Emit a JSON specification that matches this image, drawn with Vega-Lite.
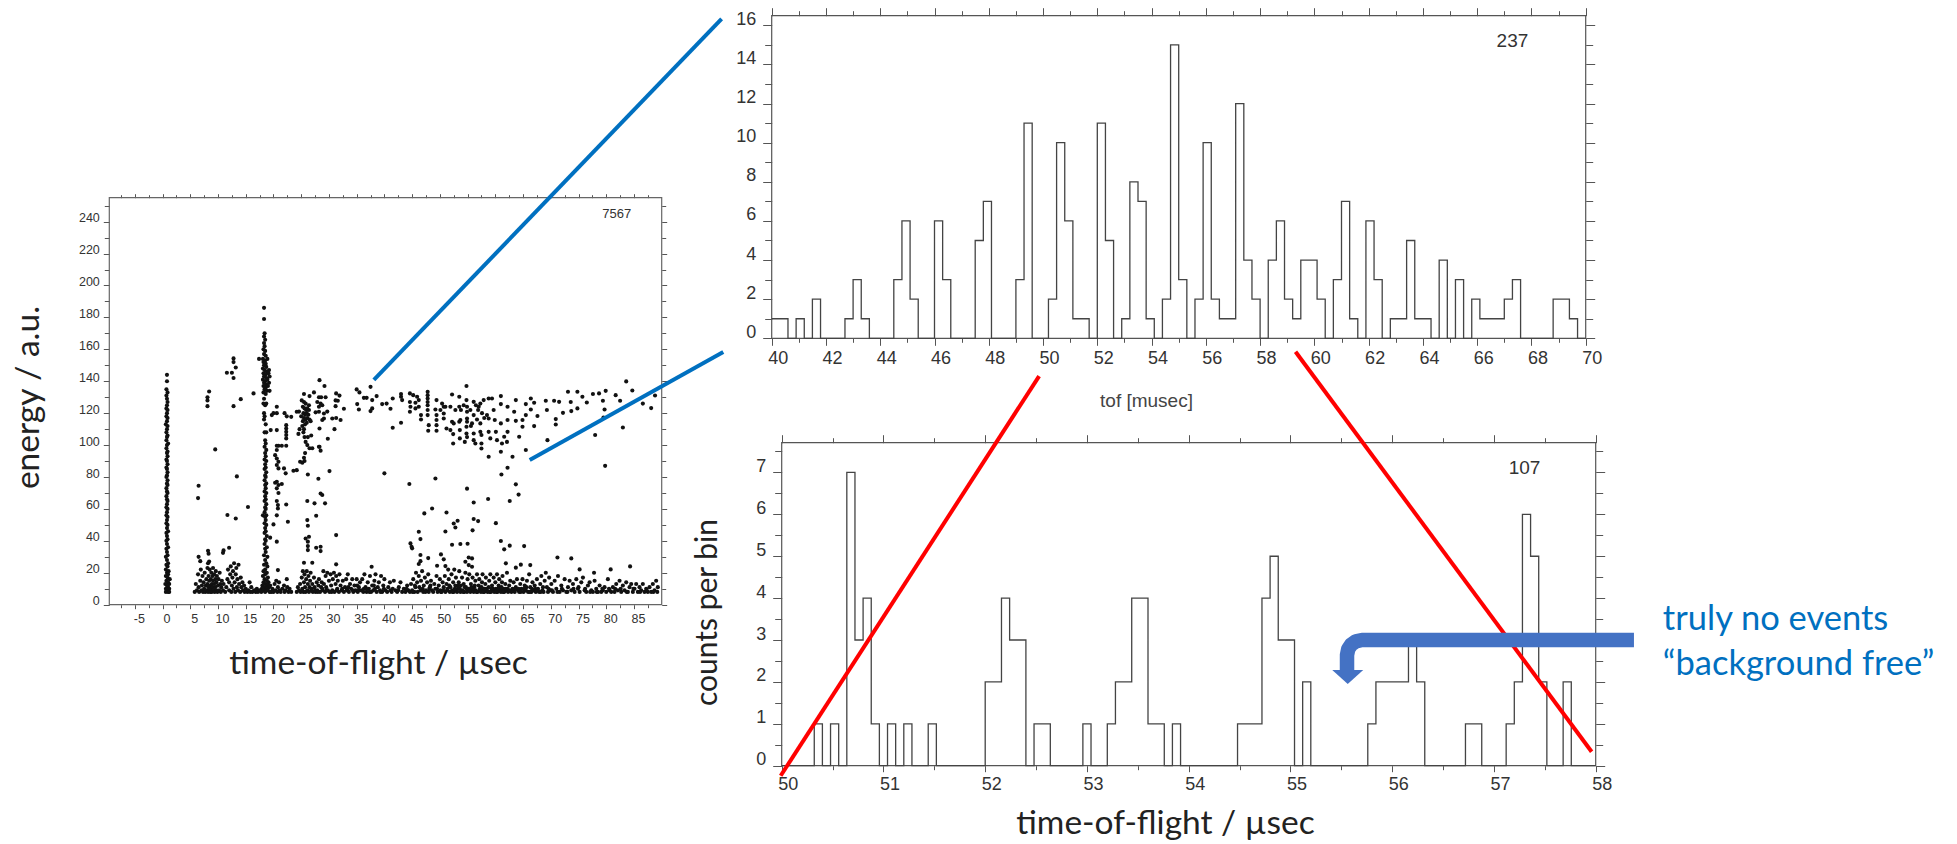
{"$schema":"https://vega.github.io/schema/vega-lite/v6.json","width":1957,"height":844,"padding":0,"autosize":"none","background":"white","view":{"stroke":null},
"config":{"axis":{"grid":false,"domain":false,"labelFont":"Liberation Sans","labelColor":"#333","tickColor":"#555","labelOverlap":false,"labelFlush":false,"labelBound":false,"titleFont":"Lato","titleColor":"#222","titleFontWeight":"normal","titleBaseline":"middle","titleAlign":"center"}},
"resolve":{"scale":{"x":"independent","y":"independent"},"axis":{"x":"independent","y":"independent"}},
"layer":[
{"data":{"values":[{"x0":-9.6,"x1":90,"y0":0,"y1":255}]},"mark":{"type":"rect","fill":"transparent","stroke":"#666","strokeWidth":1.2},
"encoding":{"x":{"field":"x0","type":"quantitative","scale":{"domain":[-9.6,90],"range":[109.3,661.7]},"axis":{"orient":"top","offset":-197.7,"title":null,"labels":false,"values":[-7.5,-5,-2.5,0,2.5,5,7.5,10,12.5,15,17.5,20,22.5,25,27.5,30,32.5,35,37.5,40,42.5,45,47.5,50,52.5,55,57.5,60,62.5,65,67.5,70,72.5,75,77.5,80,82.5,85,87.5],"tickSize":{"expr":"datum.value%5==0?4:3"}}},"x2":{"field":"x1"},
"y":{"field":"y0","type":"quantitative","scale":{"domain":[0,255],"range":[604.7,197.7]},"axis":{"orient":"right","offset":-1295.3,"title":null,"labels":false,"values":[0,10,20,30,40,50,60,70,80,90,100,110,120,130,140,150,160,170,180,190,200,210,220,230,240,250],"tickSize":{"expr":"datum.value%20==0?5:4"}}},"y2":{"field":"y1"}}},
{"data":{"name":"events","values":[
{"t":0.8,"e":144},{"t":0.8,"e":140},{"t":0.7,"e":135},{"t":0.9,"e":133},{"t":0.7,"e":131},{"t":0.8,"e":129},{"t":0.9,"e":127},{"t":0.8,"e":125},{"t":0.7,"e":123},{"t":0.9,"e":122},{"t":0.8,"e":120},{"t":0.7,"e":118},{"t":0.9,"e":117},{"t":0.8,"e":115},{"t":0.6,"e":113},{"t":0.9,"e":112},{"t":0.8,"e":110},{"t":0.7,"e":108},{"t":0.9,"e":106},{"t":0.8,"e":105},{"t":0.7,"e":103},{"t":1,"e":101},{"t":0.8,"e":100},{"t":0.7,"e":98},{"t":0.9,"e":96},{"t":0.8,"e":95},{"t":0.9,"e":93},{"t":0.7,"e":91},{"t":0.8,"e":90},{"t":0.9,"e":88},{"t":0.7,"e":86},{"t":0.8,"e":85},{"t":0.9,"e":83},{"t":0.8,"e":81},{"t":0.7,"e":80},{"t":0.9,"e":78},{"t":0.8,"e":76},{"t":0.9,"e":75},{"t":0.7,"e":73},{"t":0.8,"e":71},{"t":0.9,"e":70},{"t":0.7,"e":68},{"t":0.8,"e":66},{"t":0.9,"e":65},{"t":0.8,"e":63},{"t":0.7,"e":61},{"t":0.9,"e":60},{"t":0.8,"e":58},{"t":0.7,"e":56},{"t":0.9,"e":55},{"t":0.8,"e":53},{"t":0.7,"e":51},{"t":0.9,"e":50},{"t":0.8,"e":48},{"t":1,"e":46},{"t":0.7,"e":45},{"t":0.8,"e":43},{"t":0.9,"e":41},{"t":0.7,"e":40},{"t":0.8,"e":38},{"t":1,"e":36},{"t":0.7,"e":35},{"t":0.8,"e":33},{"t":0.9,"e":31},{"t":0.6,"e":30},{"t":0.8,"e":28},{"t":1,"e":26},{"t":0.7,"e":25},{"t":0.9,"e":24},{"t":0.6,"e":22},{"t":1.1,"e":21},{"t":0.8,"e":20},{"t":1,"e":19},{"t":0.6,"e":18},{"t":0.9,"e":17},{"t":1.3,"e":16},{"t":0.7,"e":15},{"t":1,"e":14},{"t":0.5,"e":13},{"t":1.2,"e":13},{"t":0.8,"e":12},{"t":1,"e":11},{"t":0.6,"e":10},{"t":1.2,"e":10},{"t":0.8,"e":9},{"t":1,"e":8},{"t":0.6,"e":8},{"t":1.2,"e":8},
{"t":18.3,"e":186},{"t":18.3,"e":179},{"t":18.4,"e":170},{"t":18.3,"e":168},{"t":18.5,"e":166},{"t":18.3,"e":164},{"t":18.4,"e":162},{"t":18.2,"e":160},{"t":18.5,"e":159},{"t":18.3,"e":157},{"t":18.6,"e":156},{"t":17.4,"e":154},{"t":18.1,"e":154},{"t":18.5,"e":153},{"t":18.9,"e":154},{"t":18.2,"e":152},{"t":18.6,"e":151},{"t":18.3,"e":150},{"t":18.7,"e":149},{"t":18.1,"e":148},{"t":18.4,"e":147},{"t":18.8,"e":146},{"t":19.2,"e":147},{"t":18.2,"e":145},{"t":18.6,"e":144},{"t":19.1,"e":145},{"t":18.3,"e":143},{"t":18.7,"e":142},{"t":19.3,"e":143},{"t":18.1,"e":141},{"t":18.5,"e":140},{"t":18.9,"e":141},{"t":18.3,"e":139},{"t":18.7,"e":138},{"t":19.2,"e":139},{"t":18.2,"e":137},{"t":18.6,"e":136},{"t":19,"e":137},{"t":18.4,"e":135},{"t":18.8,"e":134},{"t":19.3,"e":134},{"t":18.2,"e":133},{"t":18.6,"e":132},{"t":18.3,"e":129},{"t":18.2,"e":126},{"t":18.5,"e":125},{"t":18.7,"e":126},{"t":18.3,"e":120},{"t":18.4,"e":118},{"t":18.3,"e":116},{"t":18.6,"e":113},{"t":18.4,"e":108},{"t":18.7,"e":108},{"t":18.5,"e":103},{"t":18.6,"e":101},{"t":18.4,"e":99},{"t":18.7,"e":97},{"t":18.5,"e":95},{"t":18.6,"e":93},{"t":18.4,"e":91},{"t":18.7,"e":90},{"t":18.5,"e":88},{"t":18.6,"e":86},{"t":18.4,"e":85},{"t":18.7,"e":83},{"t":18.5,"e":81},{"t":18.6,"e":80},{"t":18.4,"e":78},{"t":18.7,"e":76},{"t":18.5,"e":75},{"t":18.6,"e":73},{"t":18.4,"e":71},{"t":18.7,"e":70},{"t":18.5,"e":68},{"t":18.6,"e":66},{"t":18.4,"e":65},{"t":18.7,"e":63},{"t":18.5,"e":61},{"t":18.6,"e":60},{"t":18.4,"e":58},{"t":18.1,"e":56},{"t":18.7,"e":56},{"t":18.5,"e":55},{"t":18.6,"e":53},{"t":18.4,"e":51},{"t":18.7,"e":50},{"t":18.5,"e":48},{"t":18.6,"e":46},{"t":18.4,"e":45},{"t":18.8,"e":43},{"t":18.5,"e":41},{"t":18.6,"e":40},{"t":18.4,"e":38},{"t":18.8,"e":36},{"t":18.5,"e":35},{"t":18.6,"e":33},{"t":18.3,"e":31},{"t":18.9,"e":30},{"t":18.5,"e":28},{"t":18.7,"e":26},{"t":18.3,"e":25},{"t":18.9,"e":24},{"t":18.5,"e":22},{"t":18.2,"e":21},{"t":18.8,"e":20},{"t":18.5,"e":19},{"t":18.1,"e":18},{"t":19,"e":17},{"t":18.4,"e":16},{"t":18.8,"e":15},{"t":18.2,"e":14},{"t":19.1,"e":14},{"t":18.6,"e":13},{"t":18,"e":12},{"t":18.9,"e":12},{"t":18.4,"e":11},{"t":19.2,"e":11},{"t":17.9,"e":10},{"t":18.7,"e":10},{"t":18.2,"e":9},{"t":19,"e":9},{"t":17.8,"e":8},{"t":18.5,"e":8},{"t":19.3,"e":8},
{"t":6.5,"e":74.5},{"t":6.4,"e":66.8},{"t":8.4,"e":133.6},{"t":8.1,"e":130},{"t":8.1,"e":128},{"t":8.1,"e":124.4},{"t":9.5,"e":97.3},{"t":11.6,"e":145.3},{"t":12.5,"e":145.3},{"t":12.8,"e":154.3},{"t":12.8,"e":152},{"t":13.2,"e":148.6},{"t":12.8,"e":142},{"t":12.8,"e":124.4},{"t":14.1,"e":128.8},{"t":16.4,"e":132.4},{"t":13.4,"e":80.4},{"t":15.4,"e":61.2},{"t":11.7,"e":56.2},{"t":13.2,"e":54},
{"t":11,"e":34},{"t":10.9,"e":32.5},{"t":12,"e":35.7},{"t":8.2,"e":33.8},{"t":8.3,"e":32},{"t":6.5,"e":30},{"t":6.8,"e":27.3},{"t":8.4,"e":27},{"t":8.2,"e":26},
{"t":20.6,"e":124},{"t":20,"e":120},{"t":20.6,"e":120},{"t":19.7,"e":118.8},{"t":22,"e":120},{"t":22.4,"e":118},{"t":23.2,"e":117.7},{"t":24.2,"e":120.9},{"t":22.3,"e":112.5},{"t":22.3,"e":110.4},{"t":22.3,"e":108.3},{"t":22.3,"e":106.3},{"t":22.3,"e":104.2},{"t":19.5,"e":109.4},{"t":20.6,"e":109.4},{"t":20.6,"e":99.6},{"t":20.9,"e":99.6},{"t":21.5,"e":99.6},{"t":22.3,"e":99.6},{"t":20.6,"e":96.9},{"t":20.3,"e":93.7},{"t":20.6,"e":91.6},{"t":20.9,"e":89.6},{"t":20.6,"e":87.5},{"t":20.9,"e":85.4},{"t":21.9,"e":85.4},{"t":22.2,"e":82.3},{"t":23.6,"e":83.9},{"t":24.2,"e":84.3},{"t":20.3,"e":76.4},{"t":20.6,"e":77},{"t":20.9,"e":75},{"t":21.5,"e":75.6},{"t":20.6,"e":72.9},{"t":20.9,"e":70},{"t":20.6,"e":65},{"t":20.8,"e":62.4},{"t":20.8,"e":60.3},{"t":22.3,"e":62.8},{"t":20.6,"e":56},{"t":22.6,"e":52},{"t":20,"e":50.3},{"t":19.4,"e":42},{"t":20.6,"e":39.5},{"t":20.8,"e":21.7},
{"t":25.5,"e":132},{"t":25.1,"e":128},{"t":25.5,"e":127},{"t":25.8,"e":126},{"t":26.4,"e":125},{"t":25.3,"e":124},{"t":25.6,"e":123},{"t":25.9,"e":122},{"t":26.1,"e":123},{"t":26.4,"e":122},{"t":25.4,"e":120},{"t":25.7,"e":119},{"t":26,"e":120},{"t":26.3,"e":119},{"t":25.5,"e":117},{"t":25.8,"e":116},{"t":26.1,"e":117},{"t":26.5,"e":116},{"t":24.6,"e":121},{"t":25,"e":118},{"t":25.3,"e":115},{"t":25.7,"e":113},{"t":26,"e":114},{"t":26.7,"e":115},{"t":25.2,"e":112},{"t":25.5,"e":110},{"t":24.7,"e":110},{"t":24.5,"e":107},{"t":25.4,"e":108},{"t":25.6,"e":105},{"t":26.2,"e":105},{"t":26.8,"e":106},{"t":25.8,"e":102},{"t":26.1,"e":100},{"t":26.5,"e":98},{"t":27,"e":98},{"t":25.7,"e":95},{"t":25.5,"e":92},{"t":25.6,"e":90},{"t":25.2,"e":89},{"t":24.8,"e":89.6},
{"t":26.5,"e":130.7},{"t":27.3,"e":133},{"t":28.3,"e":140.7},{"t":29.2,"e":137},{"t":28.2,"e":130},{"t":28.6,"e":130},{"t":29.4,"e":130},{"t":27.9,"e":127},{"t":28.5,"e":126},{"t":28.2,"e":124},{"t":28.8,"e":125},{"t":27.6,"e":120.5},{"t":28.2,"e":120.9},{"t":29.1,"e":119.8},{"t":29.7,"e":121},{"t":29.1,"e":116.7},{"t":28.8,"e":115.7},{"t":28.3,"e":110.4},{"t":29.8,"e":104},{"t":28.2,"e":99},{"t":28.5,"e":96.5},{"t":28.3,"e":99},
{"t":31.3,"e":132.4},{"t":31.9,"e":131},{"t":31.2,"e":128},{"t":31.6,"e":127.8},{"t":31.2,"e":124.4},{"t":32.7,"e":122.8},{"t":30.6,"e":116.7},{"t":31.3,"e":117},{"t":32.1,"e":115.7},{"t":31,"e":110},{"t":30.1,"e":83.7},{"t":26.2,"e":81.6},{"t":28.1,"e":78.9},{"t":28.5,"e":69.7},{"t":28.8,"e":68.7},{"t":26.1,"e":65},{"t":27.4,"e":63.5},{"t":29.3,"e":63.5},{"t":27.7,"e":55.7},{"t":26.1,"e":53},{"t":26.2,"e":49.5},{"t":31.3,"e":43.6},{"t":25.8,"e":41.5},{"t":26.4,"e":42.6},{"t":26.2,"e":39.5},{"t":26.2,"e":36.7},{"t":26.2,"e":34.2},{"t":27.7,"e":35.7},{"t":28.5,"e":36.3},{"t":28.5,"e":33.6},{"t":25.5,"e":26.3},{"t":27,"e":26.3},{"t":31.3,"e":25.3},{"t":37.7,"e":23.8},
{"t":35,"e":134.9},{"t":35.5,"e":133},{"t":35.1,"e":125.7},{"t":35.4,"e":122.3},{"t":36.3,"e":129.6},{"t":36.8,"e":129.6},{"t":37.5,"e":136.5},{"t":37.8,"e":128.2},{"t":38.6,"e":130.7},{"t":37.8,"e":123},{"t":37.5,"e":121.3},
{"t":39.6,"e":125.7},{"t":40.4,"e":126},{"t":41.5,"e":129.2},{"t":41.1,"e":122.8},{"t":43,"e":132},{"t":43,"e":130.3},{"t":43.2,"e":128.2},{"t":41.5,"e":110.9},{"t":43,"e":114},{"t":44.6,"e":132.4},{"t":45.2,"e":131.3},{"t":45.9,"e":130.3},{"t":46.2,"e":128.2},{"t":44.6,"e":127},{"t":44.7,"e":124},{"t":44.6,"e":120.9},{"t":45.6,"e":126.5},{"t":45.6,"e":123},{"t":46.2,"e":124},{"t":46.6,"e":118.8},{"t":46.6,"e":116},{"t":47.8,"e":133.4},{"t":47.8,"e":131.3},{"t":47.8,"e":129.2},{"t":47.8,"e":127},{"t":47.8,"e":125},{"t":47.8,"e":122},{"t":47.8,"e":118.8},{"t":48,"e":112.5},{"t":47.9,"e":109},{"t":49.4,"e":128.2},{"t":49.2,"e":122.3},{"t":49.4,"e":118.8},{"t":49.4,"e":115.7},{"t":49.4,"e":112.5},{"t":49.4,"e":109},{"t":50.4,"e":126},{"t":50.7,"e":124},{"t":50.1,"e":122},{"t":50.7,"e":119.8},{"t":50.7,"e":116.7},{"t":51,"e":124},{"t":51.9,"e":124},{"t":51.2,"e":110.4},{"t":52.2,"e":131.7},{"t":51.9,"e":109.4},{"t":52.4,"e":106.9},{"t":52.4,"e":101},{"t":52.2,"e":114.6},{"t":52.5,"e":113.6},{"t":52.8,"e":122},{"t":53.5,"e":130.3},{"t":53.5,"e":124},{"t":53.8,"e":122},{"t":54.3,"e":125},{"t":54.8,"e":137},{"t":54.8,"e":128.2},{"t":54.9,"e":124},{"t":54.9,"e":120.9},{"t":54.9,"e":116.7},{"t":54.9,"e":114.6},{"t":54.8,"e":111.5},{"t":54.8,"e":107.3},{"t":54.9,"e":105},{"t":53.6,"e":109.4},{"t":53.6,"e":104.2},{"t":54.5,"e":102},{"t":53.5,"e":114.6},{"t":53.7,"e":115.7},
{"t":56.1,"e":127.1},{"t":56.9,"e":122},{"t":56.1,"e":118.8},{"t":55.8,"e":113.6},{"t":56.1,"e":107.3},{"t":56.1,"e":103.1},{"t":56.4,"e":101},{"t":57.3,"e":126},{"t":57.5,"e":101},{"t":57.5,"e":97.9},{"t":57.3,"e":113.6},{"t":57.3,"e":108.3},{"t":57.5,"e":106.3},{"t":57.9,"e":128.2},{"t":58.8,"e":129.2},{"t":59.4,"e":129.2},{"t":58.5,"e":118.8},{"t":58.8,"e":116.7},{"t":58.8,"e":108.3},{"t":59.1,"e":104.2},{"t":58.8,"e":92.7},{"t":56.5,"e":125},{"t":57,"e":124},{"t":55.5,"e":122},{"t":57.6,"e":120},{"t":58,"e":117},{"t":56.7,"e":116},{"t":55.6,"e":112},
{"t":59.7,"e":122},{"t":59.9,"e":115.7},{"t":60.1,"e":108.3},{"t":60.3,"e":103.1},{"t":61,"e":130.7},{"t":61,"e":125.7},{"t":61,"e":113.6},{"t":61.2,"e":101},{"t":61,"e":95.8},{"t":62.2,"e":124},{"t":62.2,"e":115.7},{"t":62.2,"e":108.3},{"t":61.6,"e":105.2},{"t":62.1,"e":102},{"t":63.1,"e":92.7},{"t":63.7,"e":128.2},{"t":63.4,"e":120.9},{"t":63.7,"e":115.2},{"t":64.3,"e":105.2},{"t":64.9,"e":115.7},{"t":64.9,"e":111.5},{"t":65.5,"e":125.7},{"t":65.5,"e":118.8},{"t":65.5,"e":96.9},{"t":66.4,"e":129.2},{"t":66.4,"e":122.3},{"t":67,"e":126.5},{"t":67,"e":111.9},{"t":67.6,"e":118.2},{"t":69.1,"e":127.8},{"t":69.3,"e":122},{"t":69.4,"e":103.1},{"t":70.6,"e":127.8},{"t":71.5,"e":127.1},{"t":70.9,"e":116.3},{"t":70.9,"e":112.9},{"t":72.2,"e":120.2},{"t":73.1,"e":133.4},{"t":73.6,"e":127},{"t":73.7,"e":121.3},{"t":74.8,"e":133.4},{"t":75.7,"e":130.3},{"t":74.8,"e":123},{"t":76.5,"e":126.7},{"t":77.6,"e":132},{"t":78.7,"e":132.4},{"t":78,"e":106.3},{"t":79.9,"e":134},{"t":79.4,"e":127.8},{"t":79.7,"e":122.3},{"t":79.5,"e":117.3},{"t":79.8,"e":87},{"t":81.7,"e":131.3},{"t":82.5,"e":127.8},{"t":83,"e":111},{"t":83.6,"e":139.9},{"t":84.7,"e":134.2},{"t":86.6,"e":126},{"t":88.1,"e":123.2},{"t":88.8,"e":131.1},
{"t":40,"e":82.3},{"t":44.5,"e":75.6},{"t":49.2,"e":79.1},{"t":54.9,"e":72.7},{"t":56.1,"e":64},{"t":58.7,"e":66.2},{"t":62.6,"e":65},{"t":64.2,"e":69},{"t":63.7,"e":75.4},{"t":61.1,"e":81.6},{"t":62.2,"e":85.8},{"t":48.6,"e":60.3},{"t":47.2,"e":57.2},{"t":51.2,"e":57.8},{"t":53.2,"e":52.6},{"t":52.5,"e":50.9},{"t":52.8,"e":48.4},{"t":51,"e":45.9},{"t":56.1,"e":53.7},{"t":56.9,"e":52.4},{"t":55.9,"e":46.6},{"t":60.1,"e":51.1},{"t":46.2,"e":45.7},{"t":46.5,"e":41.1},{"t":44.7,"e":38.4},{"t":44.9,"e":36.3},{"t":45,"e":35.3},{"t":52.2,"e":37.6},{"t":53.7,"e":38},{"t":55,"e":38.2},{"t":61,"e":39.9},{"t":61.6,"e":34.7},{"t":62.6,"e":37},{"t":65.2,"e":36.7},{"t":46.5,"e":31.1},{"t":46.5,"e":27.3},{"t":46.2,"e":25.5},{"t":47.9,"e":29.2},{"t":50.2,"e":31.5},{"t":50.7,"e":28.4},{"t":49.5,"e":24.4},{"t":51,"e":24.2},{"t":55.2,"e":29.6},{"t":55.8,"e":29},{"t":54.6,"e":26.9},{"t":55.2,"e":24.8},{"t":55.8,"e":23.8},{"t":61.9,"e":25.9},{"t":63.7,"e":23.2},{"t":64.6,"e":25.1},{"t":66.3,"e":24.8},{"t":71.2,"e":29.6},{"t":73.7,"e":29},{"t":75.2,"e":22.1},{"t":77.8,"e":20},{"t":80.8,"e":22.1},{"t":84.3,"e":24},
{"t":5.8,"e":8},{"t":6,"e":13},{"t":6.2,"e":9},{"t":6.4,"e":19},{"t":6.5,"e":11},{"t":6.6,"e":8},{"t":6.8,"e":15},{"t":6.9,"e":22},{"t":7,"e":9},{"t":7.1,"e":12},{"t":7.2,"e":18},{"t":7.3,"e":8},{"t":7.4,"e":14},{"t":7.5,"e":10},{"t":7.6,"e":20},{"t":7.7,"e":8},{"t":7.8,"e":12},{"t":7.9,"e":16},{"t":8,"e":9},{"t":8.1,"e":23},{"t":8.1,"e":13},{"t":8.2,"e":8},{"t":8.3,"e":18},{"t":8.3,"e":11},{"t":8.4,"e":15},{"t":8.5,"e":9},{"t":8.5,"e":22},{"t":8.6,"e":12},{"t":8.6,"e":8},{"t":8.7,"e":16},{"t":8.8,"e":10},{"t":8.8,"e":20},{"t":8.9,"e":13},{"t":8.9,"e":8},{"t":9,"e":18},{"t":9,"e":11},{"t":9.1,"e":15},{"t":9.1,"e":23},{"t":9.2,"e":9},{"t":9.3,"e":13},{"t":9.3,"e":19},{"t":9.4,"e":8},{"t":9.5,"e":16},{"t":9.5,"e":11},{"t":9.6,"e":21},{"t":9.7,"e":9},{"t":9.7,"e":14},{"t":9.8,"e":18},{"t":9.9,"e":8},{"t":10,"e":12},{"t":10.1,"e":16},{"t":10.2,"e":9},{"t":10.3,"e":20},{"t":10.4,"e":13},{"t":10.5,"e":8},{"t":10.6,"e":11},{"t":10.7,"e":15},{"t":10.9,"e":9},{"t":11,"e":13},{"t":11.3,"e":8},{"t":11.5,"e":11},{"t":11.7,"e":16},{"t":11.8,"e":22},{"t":12,"e":9},{"t":12,"e":14},{"t":12.2,"e":19},{"t":12.3,"e":24},{"t":12.4,"e":8},{"t":12.5,"e":12},{"t":12.6,"e":17},{"t":12.7,"e":21},{"t":12.8,"e":10},{"t":12.9,"e":26},{"t":13,"e":14},{"t":13.1,"e":8},{"t":13.2,"e":19},{"t":13.3,"e":23},{"t":13.4,"e":11},{"t":13.5,"e":16},{"t":13.6,"e":9},{"t":13.7,"e":25},{"t":13.8,"e":13},{"t":14,"e":8},{"t":14.1,"e":17},{"t":14.2,"e":11},{"t":14.4,"e":14},{"t":14.5,"e":9},{"t":14.7,"e":12},{"t":14.8,"e":8},{"t":15,"e":10},{"t":15.3,"e":8},{"t":15.5,"e":9},{"t":15.7,"e":14},{"t":15.8,"e":8},{"t":16,"e":11},{"t":16.2,"e":8},{"t":16.5,"e":9},{"t":16.8,"e":8},{"t":17,"e":10},{"t":17.2,"e":8},{"t":17.5,"e":9},{"t":19.4,"e":12},{"t":19.6,"e":8},{"t":19.8,"e":10},{"t":20,"e":8},{"t":20.2,"e":13},{"t":20.4,"e":9},{"t":20.5,"e":15},{"t":20.7,"e":8},{"t":20.8,"e":11},{"t":21,"e":14},{"t":21.1,"e":9},{"t":21.3,"e":8},{"t":21.6,"e":10},{"t":21.9,"e":12},{"t":22,"e":8},{"t":22.2,"e":9},{"t":22.4,"e":16},{"t":22.5,"e":11},{"t":22.7,"e":8},{"t":22.9,"e":10},{"t":23.2,"e":8},{"t":24.2,"e":8},{"t":24.4,"e":11},{"t":24.6,"e":9},{"t":24.8,"e":13},{"t":24.9,"e":8},{"t":25.1,"e":17},{"t":25.2,"e":10},{"t":25.3,"e":21},{"t":25.4,"e":8},{"t":25.5,"e":14},{"t":25.6,"e":19},{"t":25.7,"e":11},{"t":25.8,"e":8},{"t":25.9,"e":16},{"t":26,"e":21},{"t":26.1,"e":9},{"t":26.2,"e":13},{"t":26.3,"e":18},{"t":26.4,"e":8},{"t":26.5,"e":11},{"t":26.6,"e":15},{"t":26.7,"e":20},{"t":26.8,"e":9},{"t":27,"e":13},{"t":27.1,"e":8},{"t":27.3,"e":17},{"t":27.4,"e":11},{"t":27.6,"e":8},{"t":27.8,"e":14},{"t":27.9,"e":9},{"t":28.1,"e":12},{"t":28.2,"e":16},{"t":28.4,"e":8},{"t":28.6,"e":11},{"t":28.7,"e":14},{"t":28.9,"e":9},{"t":29,"e":21},{"t":29.1,"e":13},{"t":29.3,"e":8},{"t":29.4,"e":18},{"t":29.5,"e":11},{"t":29.7,"e":20},{"t":29.8,"e":9},{"t":30,"e":15},{"t":30.1,"e":8},{"t":30.3,"e":19},{"t":30.4,"e":12},{"t":30.6,"e":9},{"t":30.7,"e":16},{"t":30.9,"e":20},{"t":31,"e":8},{"t":31.2,"e":13},{"t":31.3,"e":18},{"t":31.5,"e":10},{"t":31.6,"e":15},{"t":31.8,"e":8},{"t":31.9,"e":19},{"t":32.1,"e":12},{"t":32.3,"e":9},{"t":32.5,"e":15},{"t":32.7,"e":8},{"t":32.9,"e":11},{"t":33.1,"e":16},{"t":33.2,"e":9},{"t":33.4,"e":19},{"t":33.6,"e":8},{"t":33.8,"e":13},{"t":34,"e":10},{"t":34.2,"e":16},{"t":34.4,"e":8},{"t":34.6,"e":12},{"t":34.8,"e":9},{"t":35,"e":16},{"t":35.2,"e":8},{"t":35.4,"e":11},{"t":35.6,"e":14},{"t":35.8,"e":9},{"t":36,"e":16},{"t":36.2,"e":8},{"t":36.4,"e":19},{"t":36.6,"e":11},{"t":36.8,"e":8},{"t":37,"e":14},{"t":37.2,"e":10},{"t":37.4,"e":18},{"t":37.6,"e":8},{"t":37.8,"e":12},{"t":38,"e":9},{"t":38.2,"e":15},{"t":38.4,"e":19},{"t":38.6,"e":8},{"t":38.8,"e":11},{"t":39,"e":14},{"t":39.2,"e":9},{"t":39.4,"e":18},{"t":39.6,"e":8},{"t":39.8,"e":12},{"t":40,"e":16},{"t":40.2,"e":9},{"t":40.5,"e":8},{"t":40.7,"e":11},{"t":41,"e":14},{"t":41.3,"e":8},{"t":41.5,"e":10},{"t":41.7,"e":15},{"t":42,"e":9},{"t":42.3,"e":8},{"t":42.6,"e":11},{"t":42.9,"e":14},{"t":43.2,"e":8},{"t":43.5,"e":10},{"t":43.8,"e":8},{"t":44.1,"e":12},{"t":44.3,"e":9},{"t":44.6,"e":8},{"t":44.8,"e":13},{"t":45,"e":9},{"t":45.2,"e":16},{"t":45.4,"e":8},{"t":45.6,"e":11},{"t":45.7,"e":20},{"t":45.9,"e":14},{"t":46,"e":8},{"t":46.2,"e":18},{"t":46.3,"e":11},{"t":46.5,"e":9},{"t":46.6,"e":15},{"t":46.8,"e":21},{"t":47,"e":8},{"t":47.1,"e":12},{"t":47.3,"e":17},{"t":47.5,"e":9},{"t":47.7,"e":14},{"t":47.9,"e":19},{"t":48,"e":8},{"t":48.2,"e":11},{"t":48.4,"e":15},{"t":48.6,"e":9},{"t":48.8,"e":8},{"t":49,"e":13},{"t":49.2,"e":10},{"t":49.4,"e":18},{"t":49.6,"e":8},{"t":49.8,"e":12},{"t":50,"e":16},{"t":50.1,"e":9},{"t":50.3,"e":8},{"t":50.5,"e":14},{"t":50.7,"e":11},{"t":50.9,"e":18},{"t":51,"e":8},{"t":51.2,"e":13},{"t":51.3,"e":9},{"t":51.5,"e":22},{"t":51.6,"e":16},{"t":51.8,"e":8},{"t":51.9,"e":11},{"t":52.1,"e":19},{"t":52.2,"e":9},{"t":52.4,"e":14},{"t":52.5,"e":8},{"t":52.6,"e":22},{"t":52.8,"e":12},{"t":52.9,"e":17},{"t":53.1,"e":8},{"t":53.2,"e":10},{"t":53.4,"e":14},{"t":53.5,"e":21},{"t":53.7,"e":8},{"t":53.8,"e":12},{"t":54,"e":17},{"t":54.1,"e":9},{"t":54.3,"e":13},{"t":54.4,"e":8},{"t":54.6,"e":20},{"t":54.7,"e":11},{"t":54.9,"e":8},{"t":55,"e":16},{"t":55.2,"e":10},{"t":55.3,"e":19},{"t":55.5,"e":8},{"t":55.6,"e":13},{"t":55.8,"e":9},{"t":55.9,"e":17},{"t":56.1,"e":8},{"t":56.2,"e":11},{"t":56.4,"e":15},{"t":56.5,"e":9},{"t":56.7,"e":19},{"t":56.8,"e":8},{"t":57,"e":12},{"t":57.1,"e":16},{"t":57.3,"e":9},{"t":57.4,"e":8},{"t":57.6,"e":14},{"t":57.7,"e":19},{"t":57.9,"e":10},{"t":58,"e":8},{"t":58.2,"e":13},{"t":58.3,"e":17},{"t":58.5,"e":9},{"t":58.6,"e":8},{"t":58.8,"e":11},{"t":58.9,"e":15},{"t":59.1,"e":19},{"t":59.2,"e":8},{"t":59.4,"e":12},{"t":59.5,"e":9},{"t":59.7,"e":17},{"t":59.8,"e":8},{"t":60,"e":14},{"t":60.1,"e":10},{"t":60.3,"e":19},{"t":60.4,"e":8},{"t":60.6,"e":12},{"t":60.7,"e":16},{"t":60.9,"e":9},{"t":61,"e":8},{"t":61.2,"e":14},{"t":61.3,"e":18},{"t":61.5,"e":10},{"t":61.6,"e":8},{"t":61.8,"e":13},{"t":62,"e":9},{"t":62.1,"e":20},{"t":62.3,"e":8},{"t":62.5,"e":12},{"t":62.7,"e":15},{"t":62.9,"e":8},{"t":63.1,"e":10},{"t":63.3,"e":14},{"t":63.5,"e":8},{"t":63.7,"e":11},{"t":63.9,"e":16},{"t":64.1,"e":9},{"t":64.3,"e":8},{"t":64.5,"e":13},{"t":64.7,"e":10},{"t":64.9,"e":16},{"t":65.1,"e":8},{"t":65.3,"e":12},{"t":65.5,"e":9},{"t":65.7,"e":15},{"t":65.9,"e":8},{"t":66.1,"e":19},{"t":66.3,"e":11},{"t":66.5,"e":8},{"t":66.7,"e":14},{"t":66.9,"e":9},{"t":67.1,"e":12},{"t":67.3,"e":8},{"t":67.5,"e":16},{"t":67.7,"e":10},{"t":67.9,"e":8},{"t":68.1,"e":13},{"t":68.3,"e":18},{"t":68.5,"e":9},{"t":68.7,"e":8},{"t":68.9,"e":15},{"t":69.1,"e":20},{"t":69.3,"e":11},{"t":69.5,"e":8},{"t":69.7,"e":17},{"t":69.9,"e":9},{"t":70.1,"e":13},{"t":70.4,"e":8},{"t":70.7,"e":15},{"t":71,"e":10},{"t":71.3,"e":18},{"t":71.6,"e":8},{"t":71.9,"e":12},{"t":72.2,"e":9},{"t":72.5,"e":16},{"t":72.8,"e":8},{"t":73.1,"e":11},{"t":73.4,"e":15},{"t":73.7,"e":9},{"t":74,"e":13},{"t":74.3,"e":8},{"t":74.6,"e":16},{"t":74.9,"e":10},{"t":75.2,"e":8},{"t":75.5,"e":14},{"t":75.8,"e":17},{"t":76.1,"e":9},{"t":76.4,"e":8},{"t":76.7,"e":12},{"t":77,"e":14},{"t":77.3,"e":9},{"t":77.6,"e":8},{"t":77.9,"e":15},{"t":78.2,"e":10},{"t":78.5,"e":8},{"t":78.8,"e":12},{"t":79.1,"e":8},{"t":79.4,"e":9},{"t":79.7,"e":11},{"t":80,"e":8},{"t":80.3,"e":16},{"t":80.6,"e":9},{"t":80.9,"e":8},{"t":81.2,"e":11},{"t":81.5,"e":8},{"t":81.8,"e":13},{"t":82.1,"e":9},{"t":82.4,"e":15},{"t":82.7,"e":8},{"t":83,"e":12},{"t":83.3,"e":9},{"t":83.6,"e":14},{"t":83.9,"e":8},{"t":84.2,"e":11},{"t":84.5,"e":13},{"t":84.8,"e":8},{"t":85.1,"e":10},{"t":85.4,"e":13},{"t":85.7,"e":8},{"t":86,"e":11},{"t":86.3,"e":9},{"t":86.6,"e":13},{"t":86.9,"e":8},{"t":87.2,"e":10},{"t":87.5,"e":8},{"t":87.8,"e":11},{"t":88.1,"e":8},{"t":88.4,"e":13},{"t":88.7,"e":9},{"t":89,"e":15},{"t":89.2,"e":8},{"t":89.3,"e":11},
{"t":45.1,"e":8},{"t":47.4,"e":8},{"t":48.1,"e":10},{"t":50.2,"e":8},{"t":51.4,"e":10},{"t":52.3,"e":8},{"t":53,"e":9},{"t":53.6,"e":10},{"t":54.2,"e":8},{"t":54.8,"e":10},{"t":55.4,"e":9},{"t":56,"e":10},{"t":56.6,"e":8},{"t":57.2,"e":10},{"t":57.8,"e":8},{"t":58.4,"e":10},{"t":59,"e":8},{"t":59.6,"e":10},{"t":60.2,"e":8},{"t":60.8,"e":10},{"t":61.4,"e":8},{"t":62.2,"e":10},{"t":63.2,"e":9},{"t":64.2,"e":10},{"t":65.2,"e":10},{"t":66.2,"e":8},{"t":67.2,"e":10},{"t":68.2,"e":8},{"t":33.3,"e":10},{"t":34.3,"e":9},{"t":35.3,"e":9},{"t":36.3,"e":10},{"t":37.3,"e":8},{"t":38.3,"e":10},{"t":39.3,"e":8},{"t":26.9,"e":10},{"t":27.5,"e":9},{"t":28,"e":8},{"t":28.8,"e":10},{"t":29.6,"e":9},{"t":30.5,"e":8},{"t":31.4,"e":9},{"t":32.4,"e":10},
{"t":33.5,"e":11},{"t":35.1,"e":12},{"t":36.7,"e":10},{"t":38.1,"e":12},{"t":39.9,"e":10},{"t":41.1,"e":9},{"t":42.5,"e":9},{"t":44,"e":10},{"t":45.5,"e":12},{"t":46.9,"e":10},{"t":48.3,"e":12},{"t":49.5,"e":10},{"t":50.6,"e":9},{"t":51.7,"e":12},{"t":52.7,"e":10},{"t":53.3,"e":12},{"t":54.5,"e":11},{"t":55.7,"e":11},{"t":56.3,"e":12},{"t":57.5,"e":11},{"t":58.1,"e":10},{"t":59.3,"e":10},{"t":60.5,"e":10},{"t":61.1,"e":11},{"t":61.9,"e":10},{"t":62.6,"e":9},{"t":63.6,"e":10},{"t":64.6,"e":8},{"t":65.6,"e":11},{"t":66.6,"e":10},{"t":67.6,"e":9},{"t":68.6,"e":11},{"t":69.6,"e":10},{"t":70.2,"e":9},{"t":71.2,"e":8},{"t":72,"e":10},{"t":73,"e":8},{"t":74.1,"e":10},{"t":75,"e":11},{"t":76.2,"e":10},{"t":77.1,"e":8},{"t":78.3,"e":8},{"t":79.3,"e":10},{"t":80.5,"e":10},{"t":81.6,"e":10},{"t":82.6,"e":10},{"t":83.7,"e":8},{"t":84.9,"e":10},{"t":86.1,"e":8},{"t":87.3,"e":9},{"t":88.5,"e":8}
]},"mark":{"type":"circle","size":17,"color":"#111","opacity":1},
"encoding":{"x":{"field":"t","type":"quantitative","scale":{"domain":[-9.6,90],"range":[109.3,661.7]},"axis":{"orient":"bottom","offset":-239.3,"title":"time-of-flight / µsec","titleFontSize":33.5,"titleX":378,"titleY":59,"values":[-7.5,-5,-2.5,0,2.5,5,7.5,10,12.5,15,17.5,20,22.5,25,27.5,30,32.5,35,37.5,40,42.5,45,47.5,50,52.5,55,57.5,60,62.5,65,67.5,70,72.5,75,77.5,80,82.5,85,87.5],"tickSize":{"expr":"datum.value%5==0?4:3"},"labelExpr":"datum.value%5==0?datum.value:''","labelFontSize":12.5,"labelOffset":4,"labelPadding":4}},
"y":{"field":"e","type":"quantitative","scale":{"domain":[0,255],"range":[604.7,197.7]},"axis":{"orient":"left","offset":-109.3,"title":"energy / a.u.","titleFontSize":33.5,"titleAngle":270,"titleX":-81.3,"titleY":397,"values":[0,10,20,30,40,50,60,70,80,90,100,110,120,130,140,150,160,170,180,190,200,210,220,230,240,250],"tickSize":{"expr":"datum.value%20==0?6:5"},"labelExpr":"datum.value%20==0?datum.value:''","labelFontSize":12.5,"labelOffset":-4,"labelPadding":4}}}},
{"data":{"values":[{"seg":"a","t":38.1,"e":140.8},{"seg":"a","t":100.8,"e":367},{"seg":"b","t":66.2,"e":90.7},{"seg":"b","t":101.1,"e":158.3}]},"mark":{"type":"line","color":"#0070C0","strokeWidth":4,"clip":false},"encoding":{"x":{"field":"t","type":"quantitative","scale":{"domain":[-9.6,90],"range":[109.3,661.7]},"axis":null},"y":{"field":"e","type":"quantitative","scale":{"domain":[0,255],"range":[604.7,197.7]},"axis":null},"detail":{"field":"seg"}}},
{"data":{"values":[{"label":"7567","t":81.9,"e":244.8}]},"mark":{"type":"text","font":"Liberation Sans","fontSize":13,"color":"#333"},"encoding":{"x":{"field":"t","type":"quantitative","scale":{"domain":[-9.6,90],"range":[109.3,661.7]},"axis":null},"y":{"field":"e","type":"quantitative","scale":{"domain":[0,255],"range":[604.7,197.7]},"axis":null},"text":{"field":"label"}}},
{"data":{"values":[{"x0":40,"x1":70,"y0":0,"y1":16.49}]},"mark":{"type":"rect","fill":"transparent","stroke":"#555","strokeWidth":1.2},
"encoding":{"x":{"field":"x0","type":"quantitative","scale":{"domain":[40,70],"range":[771.7,1585.7]},"axis":{"orient":"top","offset":-15.7,"title":null,"labels":false,"values":[40,41,42,43,44,45,46,47,48,49,50,51,52,53,54,55,56,57,58,59,60,61,62,63,64,65,66,67,68,69,70],"tickSize":{"expr":"datum.value%2==0?8:5"}}},"x2":{"field":"x1"},
"y":{"field":"y0","type":"quantitative","scale":{"domain":[0,16.49],"range":[338.3,15.7]},"axis":{"orient":"right","offset":-371.3,"title":null,"labels":false,"values":[0,1,2,3,4,5,6,7,8,9,10,11,12,13,14,15,16],"tickSize":{"expr":"datum.value%2==0?9:7"}}},"y2":{"field":"y1"}}},
{"data":{"name":"tof_40_70","values":[{"tof":40,"counts":1},{"tof":40.3,"counts":1},{"tof":40.6,"counts":0},{"tof":40.9,"counts":1},{"tof":41.2,"counts":0},{"tof":41.5,"counts":2},{"tof":41.8,"counts":0},{"tof":42.1,"counts":0},{"tof":42.4,"counts":0},{"tof":42.7,"counts":1},{"tof":43,"counts":3},{"tof":43.3,"counts":1},{"tof":43.6,"counts":0},{"tof":43.9,"counts":0},{"tof":44.2,"counts":0},{"tof":44.5,"counts":3},{"tof":44.8,"counts":6},{"tof":45.1,"counts":2},{"tof":45.4,"counts":0},{"tof":45.7,"counts":0},{"tof":46,"counts":6},{"tof":46.3,"counts":3},{"tof":46.6,"counts":0},{"tof":46.9,"counts":0},{"tof":47.2,"counts":0},{"tof":47.5,"counts":5},{"tof":47.8,"counts":7},{"tof":48.1,"counts":0},{"tof":48.4,"counts":0},{"tof":48.7,"counts":0},{"tof":49,"counts":3},{"tof":49.3,"counts":11},{"tof":49.6,"counts":0},{"tof":49.9,"counts":0},{"tof":50.2,"counts":2},{"tof":50.5,"counts":10},{"tof":50.8,"counts":6},{"tof":51.1,"counts":1},{"tof":51.4,"counts":1},{"tof":51.7,"counts":0},{"tof":52,"counts":11},{"tof":52.3,"counts":5},{"tof":52.6,"counts":0},{"tof":52.9,"counts":1},{"tof":53.2,"counts":8},{"tof":53.5,"counts":7},{"tof":53.8,"counts":1},{"tof":54.1,"counts":0},{"tof":54.4,"counts":2},{"tof":54.7,"counts":15},{"tof":55,"counts":3},{"tof":55.3,"counts":0},{"tof":55.6,"counts":2},{"tof":55.9,"counts":10},{"tof":56.2,"counts":2},{"tof":56.5,"counts":1},{"tof":56.8,"counts":1},{"tof":57.1,"counts":12},{"tof":57.4,"counts":4},{"tof":57.7,"counts":2},{"tof":58,"counts":0},{"tof":58.3,"counts":4},{"tof":58.6,"counts":6},{"tof":58.9,"counts":2},{"tof":59.2,"counts":1},{"tof":59.5,"counts":4},{"tof":59.8,"counts":4},{"tof":60.1,"counts":2},{"tof":60.4,"counts":0},{"tof":60.7,"counts":3},{"tof":61,"counts":7},{"tof":61.3,"counts":1},{"tof":61.6,"counts":0},{"tof":61.9,"counts":6},{"tof":62.2,"counts":3},{"tof":62.5,"counts":0},{"tof":62.8,"counts":1},{"tof":63.1,"counts":1},{"tof":63.4,"counts":5},{"tof":63.7,"counts":1},{"tof":64,"counts":1},{"tof":64.3,"counts":0},{"tof":64.6,"counts":4},{"tof":64.9,"counts":0},{"tof":65.2,"counts":3},{"tof":65.5,"counts":0},{"tof":65.8,"counts":2},{"tof":66.1,"counts":1},{"tof":66.4,"counts":1},{"tof":66.7,"counts":1},{"tof":67,"counts":2},{"tof":67.3,"counts":3},{"tof":67.6,"counts":0},{"tof":67.9,"counts":0},{"tof":68.2,"counts":0},{"tof":68.5,"counts":0},{"tof":68.8,"counts":2},{"tof":69.1,"counts":2},{"tof":69.4,"counts":1},{"tof":69.7,"counts":0},{"tof":70,"counts":0}]},
"mark":{"type":"line","interpolate":"step-after","color":"#444","strokeWidth":1.3},
"encoding":{"x":{"field":"tof","type":"quantitative","scale":{"domain":[40,70],"range":[771.7,1585.7]},"axis":{"orient":"bottom","offset":-505.7,"title":"tof [musec]","titleFont":"Liberation Sans","titleFontSize":19,"titleColor":"#444","titleX":1146,"titleY":62,"values":[40,41,42,43,44,45,46,47,48,49,50,51,52,53,54,55,56,57,58,59,60,61,62,63,64,65,66,67,68,69,70],"tickSize":{"expr":"datum.value%2==0?7:4"},"labelExpr":"datum.value%2==0?datum.value:''","labelFontSize":18,"labelOffset":6,"labelPadding":4}},
"y":{"field":"counts","type":"quantitative","scale":{"domain":[0,16.49],"range":[338.3,15.7]},"axis":{"orient":"left","offset":-771.7,"title":null,"values":[0,1,2,3,4,5,6,7,8,9,10,11,12,13,14,15,16],"tickSize":{"expr":"datum.value%2==0?9:7"},"labelExpr":"datum.value%2==0?datum.value:''","labelFontSize":18,"labelOffset":-6,"labelPadding":7}}}},
{"data":{"values":[{"label":"237","tof":67.3,"counts":15.2}]},"mark":{"type":"text","font":"Liberation Sans","fontSize":19,"color":"#333"},"encoding":{"x":{"field":"tof","type":"quantitative","scale":{"domain":[40,70],"range":[771.7,1585.7]},"axis":null},"y":{"field":"counts","type":"quantitative","scale":{"domain":[0,16.49],"range":[338.3,15.7]},"axis":null},"text":{"field":"label"}}},
{"data":{"values":[{"x0":50,"x1":58,"y0":0,"y1":7.71}]},"mark":{"type":"rect","fill":"transparent","stroke":"#555","strokeWidth":1.2},
"encoding":{"x":{"field":"x0","type":"quantitative","scale":{"domain":[50,58],"range":[781.7,1595.7]},"axis":{"orient":"top","offset":-442.7,"title":null,"labels":false,"values":[50,50.5,51,51.5,52,52.5,53,53.5,54,54.5,55,55.5,56,56.5,57,57.5,58],"tickSize":{"expr":"datum.value%1==0?8:5"}}},"x2":{"field":"x1"},
"y":{"field":"y0","type":"quantitative","scale":{"domain":[0,7.71],"range":[765.7,442.7]},"axis":{"orient":"right","offset":-361.3,"title":null,"labels":false,"values":[0,0.5,1,1.5,2,2.5,3,3.5,4,4.5,5,5.5,6,6.5,7,7.5],"tickSize":{"expr":"datum.value%1==0?9:7"}}},"y2":{"field":"y1"}}},
{"data":{"name":"tof_50_58","values":[{"tof":50,"counts":0},{"tof":50.08,"counts":0},{"tof":50.16,"counts":0},{"tof":50.24,"counts":0},{"tof":50.32,"counts":1},{"tof":50.4,"counts":0},{"tof":50.48,"counts":1},{"tof":50.56,"counts":0},{"tof":50.64,"counts":7},{"tof":50.72,"counts":3},{"tof":50.8,"counts":4},{"tof":50.88,"counts":1},{"tof":50.96,"counts":0},{"tof":51.04,"counts":1},{"tof":51.12,"counts":0},{"tof":51.2,"counts":1},{"tof":51.28,"counts":0},{"tof":51.36,"counts":0},{"tof":51.44,"counts":1},{"tof":51.52,"counts":0},{"tof":51.6,"counts":0},{"tof":51.68,"counts":0},{"tof":51.76,"counts":0},{"tof":51.84,"counts":0},{"tof":51.92,"counts":0},{"tof":52,"counts":2},{"tof":52.08,"counts":2},{"tof":52.16,"counts":4},{"tof":52.24,"counts":3},{"tof":52.32,"counts":3},{"tof":52.4,"counts":0},{"tof":52.48,"counts":1},{"tof":52.56,"counts":1},{"tof":52.64,"counts":0},{"tof":52.72,"counts":0},{"tof":52.8,"counts":0},{"tof":52.88,"counts":0},{"tof":52.96,"counts":1},{"tof":53.04,"counts":0},{"tof":53.12,"counts":0},{"tof":53.2,"counts":1},{"tof":53.28,"counts":2},{"tof":53.36,"counts":2},{"tof":53.44,"counts":4},{"tof":53.52,"counts":4},{"tof":53.6,"counts":1},{"tof":53.68,"counts":1},{"tof":53.76,"counts":0},{"tof":53.84,"counts":1},{"tof":53.92,"counts":0},{"tof":54,"counts":0},{"tof":54.08,"counts":0},{"tof":54.16,"counts":0},{"tof":54.24,"counts":0},{"tof":54.32,"counts":0},{"tof":54.4,"counts":0},{"tof":54.48,"counts":1},{"tof":54.56,"counts":1},{"tof":54.64,"counts":1},{"tof":54.72,"counts":4},{"tof":54.8,"counts":5},{"tof":54.88,"counts":3},{"tof":54.96,"counts":3},{"tof":55.04,"counts":0},{"tof":55.12,"counts":2},{"tof":55.2,"counts":0},{"tof":55.28,"counts":0},{"tof":55.36,"counts":0},{"tof":55.44,"counts":0},{"tof":55.52,"counts":0},{"tof":55.6,"counts":0},{"tof":55.68,"counts":0},{"tof":55.76,"counts":1},{"tof":55.84,"counts":2},{"tof":55.92,"counts":2},{"tof":56,"counts":2},{"tof":56.08,"counts":2},{"tof":56.16,"counts":3},{"tof":56.24,"counts":2},{"tof":56.32,"counts":0},{"tof":56.4,"counts":0},{"tof":56.48,"counts":0},{"tof":56.56,"counts":0},{"tof":56.64,"counts":0},{"tof":56.72,"counts":1},{"tof":56.8,"counts":1},{"tof":56.88,"counts":0},{"tof":56.96,"counts":0},{"tof":57.04,"counts":0},{"tof":57.12,"counts":1},{"tof":57.2,"counts":2},{"tof":57.28,"counts":6},{"tof":57.36,"counts":5},{"tof":57.44,"counts":2},{"tof":57.52,"counts":0},{"tof":57.6,"counts":0},{"tof":57.68,"counts":2},{"tof":57.76,"counts":0},{"tof":57.84,"counts":0},{"tof":57.92,"counts":0},{"tof":58,"counts":0}]},
"mark":{"type":"line","interpolate":"step-after","color":"#444","strokeWidth":1.3},
"encoding":{"x":{"field":"tof","type":"quantitative","scale":{"domain":[50,58],"range":[781.7,1595.7]},"axis":{"orient":"bottom","offset":-78.3,"title":"time-of-flight / µsec","titleFontSize":33.5,"titleX":1165,"titleY":58,"values":[50,50.5,51,51.5,52,52.5,53,53.5,54,54.5,55,55.5,56,56.5,57,57.5,58],"tickSize":{"expr":"datum.value%1==0?6:4"},"labelExpr":"datum.value%1==0?datum.value:''","labelFontSize":18,"labelOffset":6,"labelPadding":4}},
"y":{"field":"counts","type":"quantitative","scale":{"domain":[0,7.71],"range":[765.7,442.7]},"axis":{"orient":"left","offset":-781.7,"title":"counts per bin","titleFontSize":30,"titleAngle":270,"titleX":-74.7,"titleY":612,"values":[0,0.5,1,1.5,2,2.5,3,3.5,4,4.5,5,5.5,6,6.5,7,7.5],"tickSize":{"expr":"datum.value%1==0?9:7"},"labelExpr":"datum.value%1==0?datum.value:''","labelFontSize":18,"labelOffset":-6,"labelPadding":7}}}},
{"data":{"values":[{"seg":"a","tof":49.99,"counts":-0.24},{"seg":"a","tof":52.53,"counts":9.3},{"seg":"b","tof":55.05,"counts":9.88},{"seg":"b","tof":57.96,"counts":0.334}]},"mark":{"type":"line","color":"#FF0000","strokeWidth":4,"clip":false},"encoding":{"x":{"field":"tof","type":"quantitative","scale":{"domain":[50,58],"range":[781.7,1595.7]},"axis":null},"y":{"field":"counts","type":"quantitative","scale":{"domain":[0,7.71],"range":[765.7,442.7]},"axis":null},"detail":{"field":"seg"}}},
{"data":{"values":[{"tof":58.376,"counts":3,"o":0},{"tof":55.703,"counts":3,"o":1},{"tof":55.644,"counts":2.969,"o":2},{"tof":55.599,"counts":2.895,"o":3},{"tof":55.568,"counts":2.785,"o":4},{"tof":55.556,"counts":2.642,"o":5},{"tof":55.556,"counts":2.236,"o":6}]},"mark":{"type":"line","color":"#4472C4","strokeWidth":14.5,"strokeJoin":"round","clip":false},"encoding":{"order":{"field":"o","type":"quantitative"},"x":{"field":"tof","type":"quantitative","scale":{"domain":[50,58],"range":[781.7,1595.7]},"axis":null},"y":{"field":"counts","type":"quantitative","scale":{"domain":[0,7.71],"range":[765.7,442.7]},"axis":null}}},
{"data":{"values":[{"tof":55.563,"counts":2.117}]},"mark":{"type":"point","filled":true,"opacity":1,"color":"#4472C4","size":961,"shape":"M -1 -0.45 L 1 -0.45 L 0 0.45 Z"},"encoding":{"x":{"field":"tof","type":"quantitative","scale":{"domain":[50,58],"range":[781.7,1595.7]},"axis":null},"y":{"field":"counts","type":"quantitative","scale":{"domain":[0,7.71],"range":[765.7,442.7]},"axis":null}}},
{"data":{"values":[{"label":"107","tof":57.3,"counts":7.11}]},"mark":{"type":"text","font":"Liberation Sans","fontSize":19,"color":"#333"},"encoding":{"x":{"field":"tof","type":"quantitative","scale":{"domain":[50,58],"range":[781.7,1595.7]},"axis":null},"y":{"field":"counts","type":"quantitative","scale":{"domain":[0,7.71],"range":[765.7,442.7]},"axis":null},"text":{"field":"label"}}},
{"data":{"values":[{"label":"truly no events","tof":58.66,"counts":3.477},{"label":"“background free”","tof":58.66,"counts":2.403}]},"mark":{"type":"text","font":"Lato","fontSize":34.5,"align":"left","color":"#0070C0","clip":false},"encoding":{"x":{"field":"tof","type":"quantitative","scale":{"domain":[50,58],"range":[781.7,1595.7]},"axis":null},"y":{"field":"counts","type":"quantitative","scale":{"domain":[0,7.71],"range":[765.7,442.7]},"axis":null},"text":{"field":"label"}}}
]}
